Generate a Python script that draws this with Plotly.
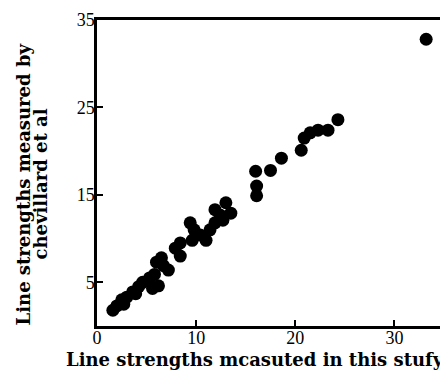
import plotly.graph_objects as go

# Data
x_this_study = [1.6, 2.0, 2.5, 2.7, 3.0, 3.6, 3.9, 4.2, 4.6, 5.3, 5.6, 5.8, 6.2, 6.0, 6.5, 6.7, 7.2,
                7.9, 8.4, 8.4, 9.4, 9.6, 9.8, 10.4, 11.0, 11.4, 11.9, 11.9, 12.4, 12.7, 13.0, 13.5,
                16.0, 16.1, 16.1, 17.5, 18.6, 20.6, 20.9, 21.5, 22.3, 23.3, 24.3, 33.2]
y_chevillard = [1.8, 2.3, 3.0, 2.5, 3.3, 3.9, 3.7, 4.5, 5.0, 5.5, 4.3, 5.9, 4.6, 7.3, 7.8, 6.9, 6.4,
                8.9, 9.5, 8.0, 11.8, 9.8, 11.0, 10.4, 9.8, 11.0, 11.8, 13.3, 12.7, 12.1, 14.1, 12.9,
                17.7, 16.0, 14.9, 17.8, 19.2, 20.1, 21.5, 22.1, 22.4, 22.4, 23.6, 32.8]
x_ticks = [0, 10, 20, 30]
y_ticks = [5, 15, 25, 35]
x_title = "Line strengths mcasuted in this stufy"
y_title_lines = ["Line strengths measured by", "chevillard et al"]

TICK_FONT = "Liberation Serif"
TITLE_FONT = "DejaVu Serif"
title_font = dict(family=TITLE_FONT, size=18, weight="bold", color="black")

fig = go.Figure(go.Scatter(
    x=x_this_study, y=y_chevillard, mode="markers",
    marker=dict(color="black", size=13, line=dict(width=0)),
    showlegend=False,
))

fig.update_layout(
    width=448, height=374,
    margin=dict(l=89, r=12, t=12, b=56),
    paper_bgcolor="white", plot_bgcolor="white",
    font=dict(family=TICK_FONT, color="black", size=17),
    annotations=[
        dict(text=x_title, xref="paper", yref="paper", x=0.455, y=-0.11,
             xanchor="center", yanchor="middle", showarrow=False, font=title_font),
        dict(text=y_title_lines[0], xref="paper", yref="paper", x=-0.212, y=0.464,
             xanchor="center", yanchor="middle", showarrow=False, textangle=-90,
             font=title_font),
        dict(text=y_title_lines[1], xref="paper", yref="paper", x=-0.163, y=0.464,
             xanchor="center", yanchor="middle", showarrow=False, textangle=-90,
             font=title_font),
    ],
)
fig.update_xaxes(
    range=[0, 35], tickvals=x_ticks, ticktext=[str(v) for v in x_ticks],
    showgrid=False, zeroline=False,
    showline=True, linecolor="black", linewidth=2.5, mirror=True,
    ticks="inside", ticklen=6, tickwidth=1.5, tickcolor="black",
    tickfont=dict(family=TICK_FONT, size=18, color="black"),
    ticklabelstandoff=-6,
    automargin=False,
)
fig.update_yaxes(
    range=[0, 35], tickvals=y_ticks, ticktext=[str(v) for v in y_ticks],
    showgrid=False, zeroline=False,
    showline=True, linecolor="black", linewidth=2.5, mirror=True,
    ticks="inside", ticklen=6, tickwidth=1.5, tickcolor="black",
    tickfont=dict(family=TICK_FONT, size=18, color="black"),
    ticklabelstandoff=-4,
    automargin=False,
)

fig.write_html("out.html")
